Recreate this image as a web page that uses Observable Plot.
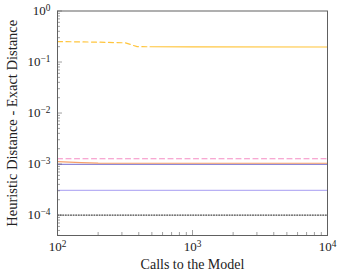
<!DOCTYPE html>
<html>
<head>
<meta charset="utf-8">
<script src="https://cdn.jsdelivr.net/npm/d3@7"></script>
<script src="https://cdn.jsdelivr.net/npm/@observablehq/plot@0.6"></script>
<style>
  html, body { margin: 0; padding: 0; background: #fff; }
  #chart svg { display: block; }
</style>
</head>
<body>
<div id="chart"></div>
<script>
// ---- data ----
const xLabel = "Calls to the Model";
const yLabel = "Heuristic Distance - Exact Distance";
const xTicks = [100, 1000, 10000];
const yTicks = [1e-4, 1e-3, 1e-2, 1e-1, 1];

// yellow series: dashed part (fewer calls) and solid part
const yellowDashedX = [100, 200, 318, 389, 485];
const yellowDashedY = [0.252, 0.245, 0.238, 0.200, 0.199];
const yellowSolidX = [485, 1000, 10000];
const yellowSolidY = [0.199, 0.198, 0.197];

const callsX = [100, 150, 200, 300, 500, 1000, 10000];
const pinkDashedY = [1.27e-3, 1.27e-3, 1.27e-3, 1.27e-3, 1.27e-3, 1.27e-3, 1.27e-3];
const orangeY = [1.12e-3, 1.07e-3, 1.045e-3, 1.038e-3, 1.037e-3, 1.037e-3, 1.037e-3];
const purpleY = [9.86e-4, 9.86e-4, 9.86e-4, 9.86e-4, 9.86e-4, 9.86e-4, 9.86e-4];
const lavenderY = [3.05e-4, 3.05e-4, 3.05e-4, 3.05e-4, 3.05e-4, 3.05e-4, 3.05e-4];
const blackDottedY = [1e-4, 1e-4, 1e-4, 1e-4, 1e-4, 1e-4, 1e-4];

// ---- build tables ----
const zip = (xs, ys) => xs.map((x, i) => ({x, y: ys[i]}));
const series = [
  {data: zip(yellowDashedX, yellowDashedY), stroke: "#ffc53d", dash: "5,3.5"},
  {data: zip(yellowSolidX, yellowSolidY), stroke: "#ffc53d", dash: null},
  {data: zip(callsX, pinkDashedY), stroke: "#f58cc4", dash: "5,3.5"},
  {data: zip(callsX, purpleY), stroke: "#8e88d8", dash: null},
  {data: zip(callsX, orangeY), stroke: "#f5a06a", dash: null},
  {data: zip(callsX, lavenderY), stroke: "#b8b0f4", dash: null},
  {data: zip(callsX, blackDottedY), stroke: "#444", dash: "1,1.6"}
];

const W = 342, H = 275;
const mL = 57, mR = 15, mT = 10.5, mB = 40;
const plotW = W - mL - mR, plotH = H - mT - mB;
const yDomain = [Math.pow(10, -4.4), 1];

const xMinor = [], yMinor = [];
for (let e = 2; e < 4; e++) for (let k = 2; k < 10; k++) xMinor.push(k * Math.pow(10, e));
for (let e = -5; e < 0; e++) for (let k = 2; k < 10; k++) {
  const v = k * Math.pow(10, e);
  if (v >= yDomain[0]) yMinor.push(v);
}

const fmt = d => "10^" + Math.round(Math.log10(d));
const axisColor = "#606060";
const FONT = "'Liberation Serif', 'Times New Roman', serif";

const chart = Plot.plot({
  width: W, height: H,
  marginLeft: mL, marginRight: mR, marginTop: mT, marginBottom: mB,
  style: {fontFamily: FONT, fontSize: "14px", background: "white", color: "#222"},
  x: {type: "log", domain: [100, 10000]},
  y: {type: "log", domain: yDomain},
  marks: [
    ...series.map(s => Plot.line(s.data, {
      x: "x", y: "y", stroke: s.stroke, strokeWidth: 1.2,
      strokeDasharray: s.dash || undefined
    })),
    Plot.tickX(xMinor, {x: d => d, insetTop: plotH - 3, stroke: axisColor, strokeWidth: 0.6}),
    Plot.tickX(xTicks, {x: d => d, insetTop: plotH - 5, stroke: axisColor, strokeWidth: 0.6}),
    Plot.tickY(yMinor, {y: d => d, insetRight: plotW - 3, stroke: axisColor, strokeWidth: 0.6}),
    Plot.tickY(yTicks, {y: d => d, insetRight: plotW - 5, stroke: axisColor, strokeWidth: 0.6}),
    Plot.frame({stroke: axisColor, strokeWidth: 1}),
    Plot.axisX(xTicks, {tickSize: 0, tickPadding: 6, tickFormat: fmt, label: null}),
    Plot.axisY(yTicks, {tickSize: 0, tickPadding: 7, tickFormat: fmt, label: null}),
    Plot.text([xLabel], {frameAnchor: "bottom", dy: 33, text: d => d, fill: "#222"}),
    Plot.text([yLabel], {frameAnchor: "left", dx: -45, rotate: -90, textAnchor: "middle", text: d => d, fill: "#222"})
  ]
});

// serif font everywhere + superscript exponents in tick labels
chart.querySelectorAll("text").forEach(t => {
  t.style.fontFamily = FONT;
  t.style.fontSize = "14.5px";
  const s = t.textContent;
  if (s === xLabel) t.style.fontSize = "14px";
  const m = /^10\^(-?\d+)$/.exec(s);
  if (!m) return;
  t.style.fontSize = "13px";
  while (t.firstChild) t.removeChild(t.firstChild);
  t.appendChild(document.createTextNode("10"));
  const sup = document.createElementNS("http://www.w3.org/2000/svg", "tspan");
  sup.setAttribute("dy", "-0.45em");
  sup.setAttribute("font-size", "0.72em");
  sup.textContent = m[1].replace("-", "\u2212");
  t.appendChild(sup);
});

document.getElementById("chart").appendChild(chart);
</script>
</body>
</html>
